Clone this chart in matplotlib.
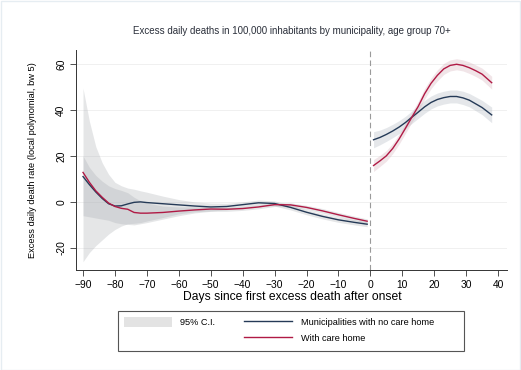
import matplotlib.pyplot as plt
from matplotlib.patches import Rectangle, Patch
from matplotlib.lines import Line2D

plt.rcParams['font.family'] = ['Liberation Sans', 'DejaVu Sans']

# days before onset (left panel) and after (right panel)
days_pre = [-90, -88, -86, -84, -82, -80, -78, -76, -74, -72, -70, -65, -60,
            -55, -50, -45, -40, -35, -30, -25, -20, -15, -10, -5, -1]
no_home_pre = [11.0, 7.5, 4.3, 1.5, -0.8, -1.8, -1.7, -0.9, -0.2, 0.0, -0.3, -0.8, -1.3,
               -1.8, -2.2, -2.0, -1.2, -0.4, -0.7, -2.4, -4.5, -6.3, -7.8, -8.9, -9.7]
no_home_pre_hi = [49.4, 35, 24, 17, 12, 8.5, 7, 6, 5.5, 4.8, 4.2, 2.5, 1.0,
                  0, -0.5, -0.6, 0, 0.8, 0.4, -1.3, -3.4, -5.2, -6.7, -7.8, -8.6]
no_home_pre_lo = [-26, -22, -19, -16.5, -14, -12, -10.5, -9.5, -9.3, -9.0, -8.3, -6.8, -5.2,
                  -4.3, -4.0, -3.4, -2.5, -1.6, -1.8, -3.5, -5.6, -7.4, -8.9, -10.0, -10.8]
home_pre = [12.8, 8.5, 4.8, 2.0, -0.5, -2.0, -2.8, -3.2, -4.6, -4.9, -4.9, -4.6, -4.0,
            -3.5, -3.1, -3.2, -2.9, -2.2, -1.2, -1.3, -2.4, -3.9, -5.6, -7.2, -8.4]
home_pre_hi = [20, 15, 11.5, 9, 7, 5.8, 5, 4, 2, 0.5, -0.5, -1.8, -2.2,
               -2.2, -2.1, -2.3, -2.1, -1.4, -0.4, -0.4, -1.5, -2.9, -4.6, -6.2, -7.4]
home_pre_lo = [-6, -6.5, -7, -7.5, -8, -9, -9.5, -9.8, -10, -9.5, -9, -7.5, -6,
               -4.8, -4.1, -4.1, -3.7, -3.0, -2.0, -2.2, -3.3, -4.9, -6.6, -8.2, -9.4]

days_post = [1, 3, 5, 7, 9, 11, 13, 15, 17, 19, 21, 23, 25, 27, 29, 31, 33, 35, 38]
no_home_post = [27.0, 28.0, 29.3, 30.8, 32.5, 34.5, 36.8, 39.0, 41.3, 43.2, 44.5, 45.3,
                45.8, 45.8, 45.2, 44.2, 42.6, 41.0, 37.8]
no_home_post_hw = [3.5, 3.2, 3.0, 2.9, 2.8, 2.7, 2.7, 2.7, 2.8, 2.8, 2.8, 2.8,
                   2.8, 2.8, 2.9, 2.9, 3.0, 3.1, 3.4]
home_post = [15.8, 17.8, 20.0, 23.2, 27.3, 32.0, 36.8, 41.5, 47.0, 51.5, 55.0, 57.8,
             59.3, 59.8, 59.3, 58.3, 57.0, 55.5, 51.8]
home_post_hw = [2.6, 2.4, 2.3, 2.2, 2.2, 2.2, 2.2, 2.2, 2.3, 2.3, 2.4, 2.4,
                2.4, 2.4, 2.4, 2.5, 2.5, 2.6, 2.8]

x_ticks = list(range(-90, 41, 10))
y_ticks = [-20, 0, 20, 40, 60]

blue = '#253a57'
red = '#b01a45'
ci_grey = '#a9adb2'

fig = plt.figure(figsize=(5.21, 3.70), dpi=100)
ax = fig.add_axes([76 / 521, 1 - 270 / 370, (507 - 76) / 521, 220 / 370])

for y in y_ticks:
    ax.axhline(y, color='#eeeeee', lw=0.6, zorder=0)

ax.fill_between(days_pre, no_home_pre_lo, no_home_pre_hi, color=ci_grey, alpha=0.3, lw=0)
ax.fill_between(days_pre, home_pre_lo, home_pre_hi, color=ci_grey, alpha=0.3, lw=0)
nh_lo = [v - h for v, h in zip(no_home_post, no_home_post_hw)]
nh_hi = [v + h for v, h in zip(no_home_post, no_home_post_hw)]
h_lo = [v - h for v, h in zip(home_post, home_post_hw)]
h_hi = [v + h for v, h in zip(home_post, home_post_hw)]
ax.fill_between(days_post, nh_lo, nh_hi, color='#a9b2bc', alpha=0.3, lw=0)
ax.fill_between(days_post, h_lo, h_hi, color='#d2a9b4', alpha=0.3, lw=0)

ax.plot(days_pre, no_home_pre, color=blue, lw=1.0)
ax.plot(days_post, no_home_post, color=blue, lw=1.0)
ax.plot(days_pre, home_pre, color=red, lw=1.0)
ax.plot(days_post, home_post, color=red, lw=1.0)

ax.axvline(0, color='#9a9a9a', lw=0.8, ls=(0, (5, 3)))

ax.set_xlim(-92.2, 42.8)
ax.set_ylim(-29.6, 66)
ax.set_xticks(x_ticks)
ax.set_yticks(y_ticks)
ax.set_yticklabels([str(v) for v in y_ticks], rotation=90, va='center')
ax.tick_params(labelsize=7.4, length=4, width=0.6, color='#333333', pad=3)
for s in ['top', 'right']:
    ax.spines[s].set_visible(False)
for s in ['left', 'bottom']:
    ax.spines[s].set_color('#333333')
    ax.spines[s].set_linewidth(0.7)

fig.text(292 / 521, 1 - 31 / 370, 'Excess daily deaths in 100,000 inhabitants by municipality, age group 70+',
         ha='center', va='center', fontsize=7.0, color='#2a2f3a')
fig.text(33 / 521, 1 - 160 / 370, 'Excess daily death rate (local polynomial, bw 5)',
         ha='center', va='center', rotation=90, fontsize=6.7)
fig.text(292 / 521, 1 - 297 / 370, 'Days since first excess death after onset',
         ha='center', va='center', fontsize=8.7)

handles = [Patch(facecolor='#e3e3e3', edgecolor='none'),
           Line2D([], [], color='none'),
           Line2D([], [], color=blue, lw=1.0),
           Line2D([], [], color=red, lw=1.0)]
labels = ['95% C.I.', '', 'Municipalities with no care home', 'With care home']
fig.legend(handles, labels, ncol=2, loc='upper left', frameon=False,
           bbox_to_anchor=(118 / 521, 1 - 311 / 370), fontsize=6.6,
           handlelength=5.3, handleheight=1.35, handletextpad=0.9,
           columnspacing=3.1, labelspacing=0.65, borderpad=0.6, borderaxespad=0)
fig.add_artist(Rectangle((118 / 521, 1 - 351 / 370), (464 - 118) / 521, 40 / 370,
                         transform=fig.transFigure, fill=False, ec='#555555', lw=0.8))
fig.add_artist(Rectangle((0.5 / 521, 0.5 / 370), 519.5 / 521, 368.5 / 370,
                         transform=fig.transFigure, fill=False, ec='#e6edf2', lw=1.0))

fig.savefig('out.png', dpi=100)
